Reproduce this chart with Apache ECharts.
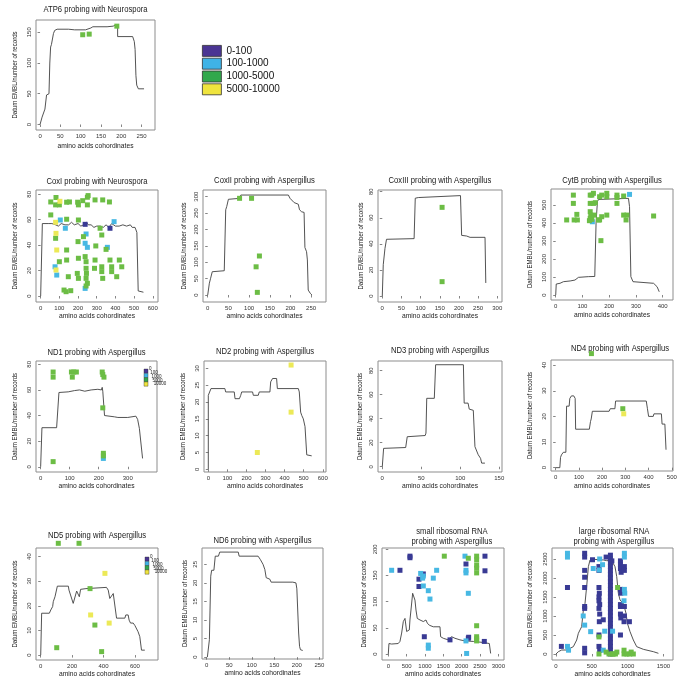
<!DOCTYPE html>
<html><head><meta charset="utf-8">
<script src="https://cdn.jsdelivr.net/npm/echarts@6/dist/echarts.min.js"></script>
<style>html,body{margin:0;padding:0;background:#fff}#c{width:685px;height:686px}</style>
</head><body><div id="c"></div>
<script>
// ---------------- DATA ----------------
const categories = ['0-100', '100-1000', '1000-5000', '5000-10000'];
const miniLegendLabels = ['0', '100', '1000', '5000', '10000'];
const xAxisTitle = 'amino acids cohordinates';
const yAxisTitle = 'Datum EMBL/number of records';

// ATP6
const atp6Line = [[0,0],[5,12],[12,25],[16,48],[18,50],[22,50],[24,100],[26,126],[28,130],[31,131],[33,148],[36,153],[42,155],[70,155],[85,154],[112,154],[116,157],[125,157],[130,159],[165,159],[180,160],[186,162],[191,162],[191,143],[228,143],[232,135],[234,122],[236,80],[238,64],[242,58],[256,58]];
const atp6Green = [[105,146],[121,147],[189,160]];
const atp6XTicks = [0,50,100,150,200,250];
const atp6YTicks = [0,50,100,150];

// CoxI
const coxILine = [[0,0],[9,57],[40,57],[45,56],[60,57],[70,58],[80,56],[95,55],[110,57],[130,56],[150,56],[165,58],[180,56],[200,57],[215,55],[230,56],[245,58],[255,56],[270,56],[285,54],[300,55],[320,55],[335,54],[350,56],[365,54],[380,57],[400,55],[420,55],[440,56],[460,55],[480,56],[490,54],[505,54],[510,52],[515,50],[522,4],[525,3],[550,3]];
const coxIGreen = [[54,74],[82,77.5],[80,71.7],[100,71.7],[139,73.8],[154,74],[198,73.8],[202,71.7],[225,75],[250,77.7],[254,79],[250,71.7],[291,75.6],[332,75.6],[368,74],[54,63.8],[139,60.4],[202,59.8],[318,53.3],[80,45.4],[139,36.2],[200,42.8],[295,39.4],[327,48],[350,36.7],[229,46.7],[100,27],[139,28.3],[148,15.2],[202,29.7],[196,17.8],[202,13.9],[238,31],[243,27],[243,21.8],[245,17.8],[243,13.9],[250,10],[243,7.9],[291,28.3],[288,21.8],[327,23],[327,19.2],[332,13.9],[371,28.3],[380,23],[380,19.2],[407,15.2],[421,28.3],[434,23],[125,4.7],[136,3.4],[161,4.2]];
const coxIBlue = [[105,59.8],[132,53.3],[393,58.5],[243,48.8],[238,41.5],[250,38.3],[357,38.3],[77,23],[86,16.5],[238,6]];
const coxIYellow = [[103,74.5],[80,58],[82,49.3],[86,36.2],[82,20.5]];
const coxIDark = [[238,56.4],[371,53.3]];
const coxIXTicks = [0,100,200,300,400,500,600];
const coxIYTicks = [0,20,40,60,80];

// CoxII
const coxIILine = [[0,0],[4,36],[7,51],[11,71],[15,73],[40,74],[42,78],[43.5,260],[46,270],[50,292],[54,295],[78,295],[80,305],[195,305],[199,295],[209,282],[219,277],[222,260],[227,254],[233,252],[235,145],[239,132],[241,107],[243,15],[248,5],[252,0]];
const coxIIGreen = [[77,295],[106,295],[125,119],[117,86],[120,8]];
const coxIIXTicks = [0,50,100,150,200,250];
const coxIIYTicks = [0,50,100,150,200,250,300];

// CoxIII
const coxIIILine = [[0,0],[2.5,24],[5,24.5],[7,36.5],[11,43.5],[13,44],[83,44],[86,75],[94,75.5],[96,77],[204,77],[207,46.5],[220,46],[224,44.5],[229,45],[268,45],[270,10]];
const coxIIIGreen = [[156,68],[156,11]];
const coxIIIXTicks = [0,50,100,150,200,250,300];
const coxIIIYTicks = [0,20,40,60,80];

// CytB
const cytbLine = [[0,0],[2,61],[16,65],[29,74],[54,78],[72,83],[85,98],[91,105],[122,102],[146,103],[151,407],[156,519],[160,531],[165,535],[272,537],[276,491],[281,102],[289,74],[366,65],[379,46],[387,18]];
const cytbGreen = [[41,417],[66,555],[66,509],[69,417],[81,417],[79,448],[129,555],[135,555],[141,565],[129,509],[141,509],[129,463],[131,444],[129,426],[126,413],[135,420],[144,444],[148,513],[164,546],[172,555],[164,417],[172,435],[160,417],[169,302],[191,546],[191,565],[191,444],[229,555],[229,509],[229,542],[254,550],[254,444],[266,444],[263,417],[366,439]];
const cytbBlue = [[137,407],[276,559]];
const cytbXTicks = [0,100,200,300,400];
const cytbYTicks = [0,100,200,300,400,500];

// ND1
const nd1Line = [[0,0],[4.5,30.5],[55,30.5],[57,29],[61,29],[63,58],[95,58.5],[98,59],[117,59.5],[123,60.5],[134,60],[152,59],[174,60],[197,60.5],[209,60],[212,62],[214,59],[220,40],[254,39],[266,38.5],[300,38.5],[305,39.5],[328,39.5],[334,37],[340,30],[345,29],[351,6.5]];
const nd1Green = [[43,74],[43,70],[43,4],[106,74],[109,70],[114,74],[123,74],[212,74],[214,72],[218,70],[214,46],[216,10.5],[216,8.5]];
const nd1Blue = [[216,6.5]];
const nd1XTicks = [0,100,200,300];
const nd1YTicks = [0,20,40,60,80];

// ND2
const nd2Line = [[0,0],[0,22],[9,22],[14,24],[87,24],[91,23],[136,23],[140,21],[163,21],[170,22],[175,23],[232,23],[236,22],[262,22],[267,23],[323,23],[327,26],[337,27],[358,27],[362,24],[472,24],[477,23],[484,17],[490,16],[498,15],[507,12.7],[516,4.3],[542,4]];
const nd2Yellow = [[434,31],[434,17],[257,5]];
const nd2XTicks = [0,100,200,300,400,500,600];
const nd2YTicks = [0,5,10,15,20,25,30];

// ND3
const nd3Line = [[0,0],[1.7,15.3],[3.4,16],[30,16],[31,17],[32,25],[34,26],[55,26],[56,28],[57,57],[66.7,57],[68.4,85],[104,85],[105,53],[110,53],[111.5,48],[116.7,47],[118.8,16.7],[121,16],[123,10],[126,7],[127.4,3],[131.6,3]];
const nd3XTicks = [0,50,100,150];
const nd3YTicks = [0,20,40,60,80];

// ND4
const nd4Line = [[0,0],[18,0],[21,4],[25,5],[33,6],[44,6],[47,24],[58,24],[61,27],[68,28],[78,28],[84,27],[86,15],[145,15],[150,18],[153,19],[158,22],[230,22],[235,23],[255,23],[258,26],[390,26],[395,23],[400,20],[420,20],[423,21],[455,21],[458,17],[470,17],[475,7]];
const nd4Green = [[154,44.5],[289,23]];
const nd4Yellow = [[293,21]];
const nd4XTicks = [0,100,200,300,400,500];
const nd4YTicks = [0,10,20,30,40];

// ND5
const nd5Line = [[0,0],[6,17],[55,17],[64,18.3],[76,19.7],[80,21.7],[91,23.7],[102,23.7],[106,28],[176,28],[180,26.4],[186,26.4],[207,21],[218,21],[229,26],[241,25.8],[246,23.7],[254,26.7],[288,27],[297,27.5],[419,27.5],[430,26.4],[440,23],[451,23],[462,25],[472,24.4],[483,15],[536,15],[542,16.3],[557,16.3],[563,14.2],[572,13],[589,13],[600,12],[620,9.5],[631,7.5],[642,2],[663,2]];
const nd5Green = [[112,45.4],[244,45.4],[314,27],[345,12.2],[102,3],[388,1.4]];
const nd5Yellow = [[409,33.2],[318,16.3],[436,13]];
const nd5XTicks = [0,200,400,600];
const nd5YTicks = [0,10,20,30,40];

// ND6
const nd6Line = [[1.5,0],[6,4.7],[9,21.8],[11,23.4],[16,23.4],[19,27.2],[26,27.2],[29,28.3],[70,28.3],[72,27.2],[114,27.2],[119,26.3],[125,25],[129,23.6],[132,21.4],[140,21],[143,20.2],[191,20.2],[198,20],[200,18.4],[204,6.5],[206,2.9],[208,2],[213,1.8]];
const nd6XTicks = [0,50,100,150,200,250];
const nd6YTicks = [0,5,10,15,20,25];

// small ribosomal RNA
const srnaLine = [[0,0],[18,20],[45,22],[90,19],[270,20],[318,24],[364,40],[409,62],[455,68],[482,71],[500,43],[545,40],[573,46],[590,65],[618,84],[664,116],[700,113],[727,103],[755,84],[790,68],[864,65],[909,68],[955,62],[1000,59],[1027,65],[1064,59],[1118,55],[1227,52],[1409,52],[1427,33],[1500,30],[1636,27],[1727,33],[1818,30],[1955,27],[2091,25],[2318,24],[2591,22],[2755,20],[2791,1]];
const srnaDark = [[318,160],[591,187],[591,184],[836,143],[836,129],[955,153],[982,33],[1682,27],[2118,172],[2182,30],[2636,187],[2636,159],[2618,24],[2191,32]];
const srnaBlue = [[91,160],[882,154],[936,145],[955,130],[955,149],[1091,121],[1136,105],[1227,145],[1318,160],[1091,17],[1091,11],[2091,187],[2118,160],[2118,155],[2182,116],[2136,1],[2118,25]];
const srnaGreen = [[1527,187],[2182,183],[2409,187],[2409,180],[2409,170],[2409,164],[2409,155],[2409,54],[2409,33],[2409,29],[2409,25]];
const srnaXTicks = [0,500,1000,1500,2000,2500,3000];
const srnaYTicks = [0,50,100,150,200];

// large ribosomal RNA
const lrnaLine = [[0,0],[33,61],[56,61],[79,105],[149,105],[196,149],[242,193],[289,368],[312,544],[335,632],[358,719],[382,1158],[405,1333],[428,1772],[452,2298],[475,2474],[498,2474],[522,2491],[661,2474],[708,2456],[778,2456],[801,2430],[824,2298],[848,2035],[871,1596],[894,1421],[941,1333],[978,1070],[997,807],[1034,588],[1080,368],[1127,193],[1220,123],[1360,61],[1430,18]];
const lrnaDark = [[75,200],[160,1750],[400,2650],[400,2550],[400,2200],[400,2020],[400,1750],[400,1250],[400,1200],[400,150],[400,30],[510,2480],[600,2300],[600,2200],[600,1750],[605,1600],[600,1500],[600,1400],[610,1300],[600,1200],[610,1050],[605,850],[600,500],[600,200],[610,100],[700,2550],[760,2600],[760,2500],[760,2400],[760,2300],[760,2200],[760,2100],[760,2000],[760,1900],[760,1800],[760,1700],[760,1600],[760,1500],[760,1400],[760,1300],[760,1200],[760,1100],[760,1000],[760,900],[760,800],[760,700],[760,600],[760,500],[760,400],[760,300],[760,200],[760,100],[760,0],[780,2450],[660,900],[900,2450],[900,2350],[900,2250],[910,2150],[900,1700],[905,1600],[900,1300],[900,1250],[900,1050],[905,950],[900,500],[955,2300],[955,2200],[955,1250],[955,1000],[950,850],[1025,850]];
const lrnaBlue = [[160,2650],[160,2550],[160,200],[175,100],[380,1000],[400,760],[484,588],[520,2250],[605,2210],[610,2500],[650,2350],[680,600],[660,100],[955,2650],[955,2550],[955,1700],[960,1600],[950,1400],[790,600]];
const lrnaGreen = [[600,450],[600,0],[700,50],[740,0],[790,0],[800,0],[830,0],[850,50],[860,1750],[950,100],[950,0],[990,0],[1030,0],[1050,50],[1080,0]];
const lrnaXTicks = [0,500,1000,1500];
const lrnaYTicks = [0,500,1000,1500,2000,2500];

// ---------------- LAYOUT / STYLE ----------------
const pointColors = {'0-100':'#393a94','100-1000':'#47b8e3','1000-5000':'#6cbd45','5000-10000':'#ece957'};
const legendColors = {'0-100':'#4a3593','100-1000':'#3fb3e6','1000-5000':'#31a84c','5000-10000':'#efe43e'};
const sans = "'Liberation Sans',Arial,sans-serif";

const panels = [
  {title:'ATP6 probing with Neurospora', box:[36,20,119,110], xr:[-10,283], yr:[-9,170], xt:atp6XTicks, yt:atp6YTicks, line:atp6Line, pts:{'1000-5000':atp6Green}, ty:10, xn:16, yn:21},
  {title:'CoxI probing with Neurospora', box:[36,190,122,112], xr:[-25,628], yr:[-4.7,83.4], xt:coxIXTicks, yt:coxIYTicks, line:coxILine, pts:{'1000-5000':coxIGreen,'100-1000':coxIBlue,'5000-10000':coxIYellow,'0-100':coxIDark}, ty:181.5, xn:14, yn:21},
  {title:'CoxII probing with Aspergillus', box:[203,190,123,112], xr:[-11.4,286], yr:[-21.4,320.4], xt:coxIIXTicks, yt:coxIIYTicks, line:coxIILine, pts:{'1000-5000':coxIIGreen}, ty:181, xn:14, yn:19.5},
  {title:'CoxIII probing with Aspergillus', box:[378,190,124,112], xr:[-11.2,312.3], yr:[-4.6,81.3], xt:coxIIIXTicks, yt:coxIIIYTicks, line:coxIIILine, pts:{'1000-5000':coxIIIGreen}, ty:181, xn:14, yn:17.5},
  {title:'CytB probing with Aspergillus', box:[551,189,122,111], xr:[-17.6,438.5], yr:[-27.8,589], xt:cytbXTicks, yt:cytbYTicks, line:cytbLine, pts:{'1000-5000':cytbGreen,'100-1000':cytbBlue}, ty:181, xn:14.5, yn:21},
  {title:'ND1 probing with Aspergillus', box:[36,361,121,111], xr:[-16,400.7], yr:[-4.1,82.6], xt:nd1XTicks, yt:nd1YTicks, line:nd1Line, pts:{'1000-5000':nd1Green,'100-1000':nd1Blue}, ty:352.5, xn:14, yn:21, mini:[144,369]},
  {title:'ND2 probing with Aspergillus', box:[204,361,122,111], xr:[-22.6,617], yr:[-0.8,32.2], xt:nd2XTicks, yt:nd2YTicks, line:nd2Line, pts:{'5000-10000':nd2Yellow}, ty:352, xn:14, yn:21},
  {title:'ND3 probing with Aspergillus', box:[378,361,124,111], xr:[-5.5,153.5], yr:[-4.4,88.1], xt:nd3XTicks, yt:nd3YTicks, line:nd3Line, pts:{}, ty:350.5, xn:14, yn:18},
  {title:'ND4 probing with Aspergillus', box:[551,360,122,111], xr:[-20,505], yr:[-1.3,42], xt:nd4XTicks, yt:nd4YTicks, line:nd4Line, pts:{'1000-5000':nd4Green,'5000-10000':nd4Yellow}, ty:348.5, tx:620, xn:14.5, yn:21},
  {title:'ND5 probing with Aspergillus', box:[36,548,122,112], xr:[-30,747], yr:[-2,43.5], xt:nd5XTicks, yt:nd5YTicks, line:nd5Line, pts:{'1000-5000':nd5Green,'5000-10000':nd5Yellow}, ty:535.5, xn:13.5, yn:21, mini:[145,557]},
  {title:'ND6 probing with Aspergillus', box:[202,548,121,111], xr:[-10.4,258], yr:[-0.5,29.4], xt:nd6XTicks, yt:nd6YTicks, line:nd6Line, pts:{}, ty:540.5, xn:14, yn:17.5},
  {title:'small ribosomal RNA\nprobing with Aspergillus', box:[382,548,122,112], xr:[-172,3155], yr:[-11.5,202.6], xt:srnaXTicks, yt:srnaYTicks, line:srnaLine, pts:{'0-100':srnaDark,'100-1000':srnaBlue,'1000-5000':srnaGreen}, ty:536.5, tx:452, xn:14, yn:18},
  {title:'large ribosomal RNA\nprobing with Aspergillus', box:[552,548,121,112], xr:[-56,1634], yr:[-158,2789], xt:lrnaXTicks, yt:lrnaYTicks, line:lrnaLine, pts:{'0-100':lrnaDark,'100-1000':lrnaBlue,'1000-5000':lrnaGreen}, ty:536.5, tx:614, xn:14, yn:22}
];

const grid = [], xAxis = [], yAxis = [], series = [], graphic = [];
const plain = v => String(v);
panels.forEach((p, i) => {
  const [l, t, w, h] = p.box;
  grid.push({left:l, top:t, width:w, height:h, show:true, borderColor:'#8d8d8d', borderWidth:1, backgroundColor:'transparent'});
  const common = {gridIndex:i, type:'value', axisLine:{show:false}, splitLine:{show:false}};
  xAxis.push(Object.assign({}, common, {
    min:p.xr[0], max:p.xr[1],
    axisTick:{show:true, length:2.5, customValues:p.xt, lineStyle:{color:'#666', width:0.8}},
    axisLabel:{customValues:p.xt, formatter:plain, fontSize:6, margin:3.5, color:'#333', fontFamily:sans}
  }));
  yAxis.push(Object.assign({}, common, {
    min:p.yr[0], max:p.yr[1],
    axisTick:{show:true, length:2.5, customValues:p.yt, lineStyle:{color:'#666', width:0.8}},
    axisLabel:{customValues:p.yt, formatter:plain, fontSize:6, margin:4, rotate:90, color:'#333', fontFamily:sans}
  }));
  series.push({type:'line', xAxisIndex:i, yAxisIndex:i, data:p.line, showSymbol:false, symbol:'none',
    lineStyle:{color:'#404040', width:0.9}, z:2, silent:true});
  categories.forEach(cat => {
    if (p.pts[cat]) series.push({type:'scatter', name:cat, xAxisIndex:i, yAxisIndex:i, data:p.pts[cat],
      symbol:'rect', symbolSize:5, clip:false, itemStyle:{color:pointColors[cat], opacity:1}, z:3, silent:true});
  });
  // panel title and axis titles (condensed, as in the original)
  const cx = (p.tx !== undefined ? p.tx : l + w / 2);
  graphic.push({type:'text', x:cx, y:p.ty, scaleX:0.85, silent:true,
    style:{text:p.title, fontSize:9, fill:'#1a1a1a', fontFamily:sans, align:'center', verticalAlign:'middle', lineHeight:9.5}});
  graphic.push({type:'text', x:l + w / 2, y:t + h + p.xn, scaleX:0.86, silent:true,
    style:{text:xAxisTitle, fontSize:7.8, fill:'#222', fontFamily:sans, align:'center', verticalAlign:'middle'}});
  graphic.push({type:'text', x:l - p.yn, y:t + h / 2, rotation:Math.PI / 2, scaleX:0.78, silent:true,
    style:{text:yAxisTitle, fontSize:7.8, fill:'#222', fontFamily:sans, align:'center', verticalAlign:'middle'}});
  if (p.mini) {
    const [mx, my] = p.mini;
    categories.forEach((cat, k) => {
      graphic.push({type:'rect', x:mx, y:my + k * 4.3, shape:{width:4, height:4.3}, silent:true,
        style:{fill:legendColors[cat], stroke:'#333', lineWidth:0.4}});
    });
    miniLegendLabels.forEach((lab, k) => {
      graphic.push({type:'text', x:mx + 5 + k * 1.2, y:my - 2.5 + k * 3.8, silent:true,
        style:{text:lab, fontSize:4.5, fill:'#222', fontFamily:sans}});
    });
  }
});

const chart = echarts.init(document.getElementById('c'), null, {renderer:'canvas'});
chart.setOption({
  animation:false,
  backgroundColor:'#fff',
  grid, xAxis, yAxis, series, graphic,
  legend:{
    data:categories.map(c => ({name:c, icon:'rect', itemStyle:{color:legendColors[c], borderColor:'#333', borderWidth:0.8, opacity:1}})),
    orient:'vertical', left:202, top:45, padding:0, itemWidth:19, itemHeight:11, itemGap:1,
    selectedMode:false,
    textStyle:{fontSize:10, color:'#111', fontFamily:sans}
  }
});
</script></body></html>
